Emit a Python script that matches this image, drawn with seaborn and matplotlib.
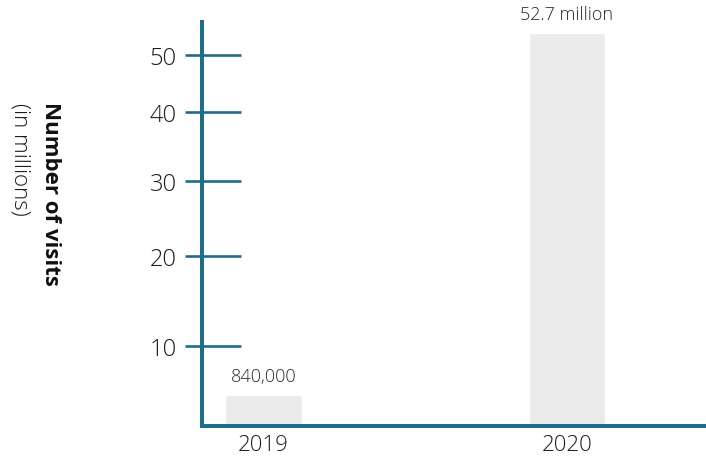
import numpy as np
import pandas as pd
import matplotlib
matplotlib.use("Agg")
import matplotlib.pyplot as plt
import matplotlib.ticker as mticker
import seaborn as sns

# ---- data ----
years = ["2019", "2020"]
visits_millions = [0.84, 52.7]
bar_labels = ["840,000", "52.7 million"]
y_ticks = [10, 20, 30, 40, 50]

# ---- style ----
sns.set_style("white")
plt.rcParams["font.family"] = ["Open Sans", "DejaVu Sans"]

AXIS_COLOR = "#216b8b"
BAR_COLOR = "#ebebeb"
TEXT_COLOR = "#1c1c1c"

# hand-drawn (non-linear) value axis of the original infographic:
# value knots -> relative height
knot_v = np.array([0.0, 0.84, 10, 20, 30, 40, 50, 52.7, 54.0])
knot_t = np.array([0.0, 30.7, 79.4, 170.0, 245.0, 314.0, 371.0, 393.0, 403.7])


def fwd(v):
    return np.interp(v, knot_v, knot_t)


def inv(t):
    return np.interp(t, knot_t, knot_v)


df = pd.DataFrame({"year": years, "visits": visits_millions})

fig = plt.figure(figsize=(7.06, 4.60), dpi=100)
ax = fig.add_axes([201.7 / 706, 1 - 426.7 / 460, 1 - 201.7 / 706, (426.7 - 23) / 460])

sns.barplot(data=df, x="year", y="visits", color=BAR_COLOR, width=0.252,
            saturation=1, ax=ax, zorder=1)

ax.set_yscale("function", functions=(fwd, inv))
ax.set_ylim(0, 54.0)
ax.set_xlim(-0.203, 1.458)

# spines
for s in ["top", "right"]:
    ax.spines[s].set_visible(False)
for s in ["left", "bottom"]:
    ax.spines[s].set_color(AXIS_COLOR)
    ax.spines[s].set_linewidth(2.9)
    ax.spines[s].set_zorder(3)

# y ticks: short outward + long inward
ax.yaxis.set_major_locator(mticker.FixedLocator(y_ticks))
ax.yaxis.set_major_formatter(mticker.FixedFormatter([str(t) for t in y_ticks]))
ax.yaxis.set_minor_locator(mticker.FixedLocator(y_ticks))
ax.yaxis.remove_overlapping_locs = False
ax.tick_params(axis="y", which="major", direction="out", length=12, width=1.9,
               color=AXIS_COLOR, left=True, labelsize=17, labelcolor=TEXT_COLOR, pad=6)
ax.tick_params(axis="y", which="minor", direction="in", length=28, width=1.9,
               color=AXIS_COLOR, left=True)
ax.tick_params(axis="x", length=0, labelsize=16, labelcolor=TEXT_COLOR, pad=6)
for lab in ax.get_yticklabels() + ax.get_xticklabels():
    lab.set_fontweight("light")

ax.set_xlabel("")
ax.set_ylabel("")

# bar value labels
for i, (v, lab) in enumerate(zip(visits_millions, bar_labels)):
    ax.annotate(lab, xy=(i, v), xytext=(0, 7), textcoords="offset points",
                ha="center", va="bottom", fontsize=13, fontweight="light",
                color="#2a2a2a")

# axis title (rotated, reading top to bottom)
fig.text(50 / 706, 1 - 102 / 460, "Number of visits", rotation=270,
         ha="center", va="top", fontsize=16, fontweight="bold", color="#111111")
fig.text(20 / 706, 1 - 103 / 460, "(in millions)", rotation=270,
         ha="center", va="top", fontsize=16, fontweight="light", color=TEXT_COLOR)

fig.savefig("out.png", dpi=100)
